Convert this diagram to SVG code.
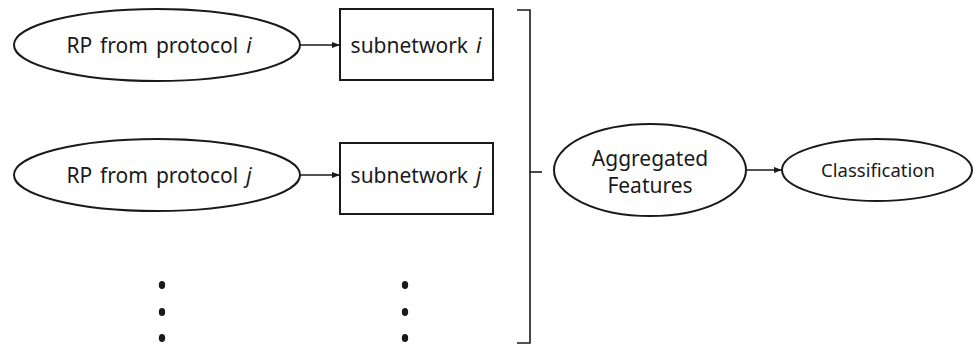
<svg xmlns="http://www.w3.org/2000/svg" width="974" height="345" viewBox="0 0 974 345">
  <style>
    .shape { fill: #ffffff; stroke: #1a1a1a; stroke-width: 2; }
    .lbl { font-family: "Noto Sans", "Open Sans", "DejaVu Sans", sans-serif; font-size: 21px; word-spacing: 2.5px; fill: #1a1a1a; text-anchor: middle; }
    .sm { font-size: 18.5px; }
    .it { font-style: italic; }
    .wire { stroke: #1a1a1a; stroke-width: 1.6; fill: none; }
    .dot { fill: #1a1a1a; }
  </style>
  <defs>
    <marker id="arrow" viewBox="0 0 8 6" refX="8" refY="3" markerWidth="8" markerHeight="6" markerUnits="userSpaceOnUse" orient="auto">
      <path d="M0,0 L8,3 L0,6 Z" fill="#1a1a1a"/>
    </marker>
  </defs>

  <g id="rp-i">
    <ellipse class="shape" cx="157" cy="45" rx="143" ry="36"/>
    <text class="lbl" x="159" y="53">RP from protocol <tspan class="it">i</tspan></text>
  </g>
  <g id="subnet-i">
    <rect class="shape" x="340" y="9" width="153" height="71"/>
    <text class="lbl" x="416" y="53">subnetwork <tspan class="it">i</tspan></text>
  </g>

  <g id="rp-j">
    <ellipse class="shape" cx="157" cy="175" rx="143" ry="36"/>
    <text class="lbl" x="159" y="183">RP from protocol <tspan class="it">j</tspan></text>
  </g>
  <g id="subnet-j">
    <rect class="shape" x="340" y="143" width="153" height="71"/>
    <text class="lbl" x="416" y="183">subnetwork <tspan class="it">j</tspan></text>
  </g>

  <g id="ellipsis-left">
    <ellipse class="dot" cx="162" cy="285" rx="3.2" ry="4"/>
    <ellipse class="dot" cx="162" cy="312" rx="3.2" ry="4"/>
    <ellipse class="dot" cx="162" cy="338" rx="3.2" ry="4"/>
  </g>
  <g id="ellipsis-right">
    <ellipse class="dot" cx="405" cy="285" rx="3.2" ry="4"/>
    <ellipse class="dot" cx="405" cy="312" rx="3.2" ry="4"/>
    <ellipse class="dot" cx="405" cy="338" rx="3.2" ry="4"/>
  </g>

  <g id="aggregated">
    <ellipse class="shape" cx="650" cy="170" rx="96" ry="46"/>
    <text class="lbl" x="650" y="166">Aggregated</text>
    <text class="lbl" x="650" y="193">Features</text>
  </g>
  <g id="classification">
    <ellipse class="shape" cx="877" cy="170" rx="95" ry="31"/>
    <text class="lbl sm" x="878" y="177">Classification</text>
  </g>

  <g id="connectors">
    <line class="wire" x1="300" y1="45" x2="340" y2="45" marker-end="url(#arrow)"/>
    <line class="wire" x1="300" y1="175" x2="340" y2="175" marker-end="url(#arrow)"/>
    <path class="wire" d="M517,10 H530 V343 H517" stroke-width="2"/>
    <line class="wire" x1="530" y1="172" x2="542" y2="172" stroke-width="2"/>
    <line class="wire" x1="746" y1="170" x2="782" y2="170" marker-end="url(#arrow)"/>
  </g>
</svg>
